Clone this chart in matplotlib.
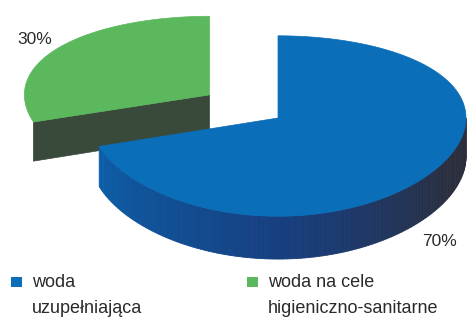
import numpy as np
import matplotlib.pyplot as plt
from matplotlib.patches import Polygon, Rectangle
from matplotlib.colors import to_rgb

labels = ["woda\nuzupełniająca", "woda na cele\nhigieniczno-sanitarne"]
values = [70, 30]
pct_labels = ["70%", "30%"]
top_colors = ["#0A6EB9", "#5BB85D"]
explode = [0.0, 0.45]

plt.rcParams['font.family'] = ['Liberation Sans', 'DejaVu Sans']

fig = plt.figure(figsize=(4.74, 3.33), dpi=100)
ax = fig.add_axes([0, 0, 1, 1])
ax.set_xlim(0, 474)
ax.set_ylim(333, 0)
ax.axis('off')

# rough perspective of the pie, all in pixels
CX, CY = 278, 118
RX, RY = 188, 89.5
K = 0.089
DEPTH = 39


def proj(px, py, dz=0.0):
    d = 1 + K * py
    return CX + RX * px, CY - RY * py / d + dz / d


def rim(ox, oy, th, dz=0.0, sx=1.0):
    t = np.radians(th)
    return proj(ox + sx * np.cos(t), oy + np.sin(t), dz)


def mix(c1, c2, f):
    a, b = np.array(to_rgb(c1)), np.array(to_rgb(c2))
    return tuple(a + (b - a) * f)


# slices go clockwise from the top
total = sum(values)
slices = []
a = 90.0
for i, v in enumerate(values):
    sweep = 360.0 * v / total
    t0, t1 = a - sweep, a
    mid = np.radians((t0 + t1) / 2)
    slices.append((t0, t1, explode[i] * np.cos(mid), explode[i] * np.sin(mid)))
    a -= sweep

# green (exploded, further back so a bit narrower) first
t0, t1, ox, oy = slices[1]
sx = 0.985
ax_, ay_ = proj(ox, oy)
face = [(ax_, ay_), rim(ox, oy, t1, sx=sx), rim(ox, oy, t1, DEPTH, sx=sx), proj(ox, oy, DEPTH)]
ax.add_patch(Polygon(face, closed=True, fc="#394A3B", ec="#394A3B", lw=0.5))
ths = np.linspace(t0, t1, 80)
pts = [(ax_, ay_)] + [rim(ox, oy, t, sx=sx) for t in ths]
ax.add_patch(Polygon(pts, closed=True, fc=top_colors[1], ec=top_colors[1], lw=0.5))

# blue slice: side with gradient then top
t0, t1, ox, oy = slices[0]
side_t = np.linspace(t0 + 360, 360, 120)
for j in range(len(side_t) - 1):
    ta, tb = side_t[j], side_t[j + 1]
    f = (ta - side_t[0]) / (360 - side_t[0])
    if f < 0.45:
        col = mix("#0C5EA8", "#173F80", f / 0.45)
    else:
        col = mix("#173F80", "#2B2E3D", min(1, (f - 0.45) / 0.4))
    quad = [rim(ox, oy, ta), rim(ox, oy, tb), rim(ox, oy, tb, DEPTH), rim(ox, oy, ta, DEPTH)]
    ax.add_patch(Polygon(quad, closed=True, fc=col, ec=col, lw=0.6))
ths = np.linspace(t0, t1, 200)
pts = [proj(ox, oy)] + [rim(ox, oy, t) for t in ths]
ax.add_patch(Polygon(pts, closed=True, fc=top_colors[0], ec=top_colors[0], lw=0.5))

# percentage labels
ax.text(440, 242, pct_labels[0], fontsize=12.5, color="#2A2A2A", ha="center", va="center")
ax.text(35, 40, pct_labels[1], fontsize=12.5, color="#2A2A2A", ha="center", va="center")

# legend
leg_x = [11, 247]
for i, lab in enumerate(labels):
    ax.add_patch(Rectangle((leg_x[i], 277), 11, 10, fc=top_colors[i], ec="none"))
    ax.text(leg_x[i] + 21, 274, lab, fontsize=13, color="#2A2A2A", ha="left", va="top",
            linespacing=1.7)

fig.savefig("out.png", dpi=100)
